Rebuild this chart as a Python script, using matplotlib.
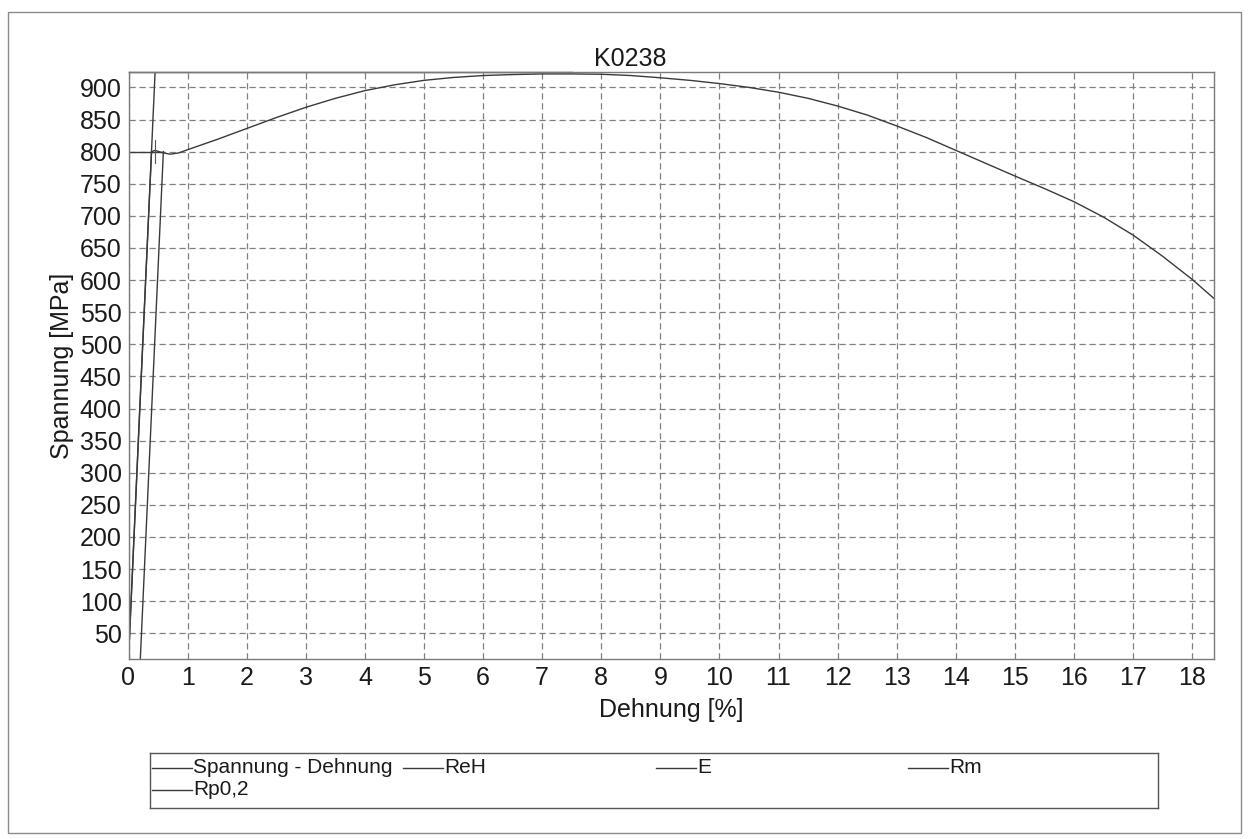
import matplotlib
matplotlib.use("Agg")
import matplotlib.pyplot as plt
from matplotlib.lines import Line2D
from matplotlib.patches import Rectangle

plt.rcParams['font.family'] = ['Liberation Sans', 'DejaVu Sans']

# ---- data ----
title = "K0238"
x_label = "Dehnung [%]"
y_label = "Spannung [MPa]"

strain = [0.0, 0.2, 0.39, 0.45, 0.55, 0.7, 0.85, 1.0, 1.5, 2.0, 2.5, 3.0, 3.5,
          4.0, 4.5, 5.0, 5.5, 6.0, 6.5, 7.0, 7.5, 8.0, 8.5, 9.0, 9.5, 10.0,
          10.5, 11.0, 11.5, 12.0, 12.5, 13.0, 13.5, 14.0, 14.5, 15.0, 15.5,
          16.0, 16.5, 17.0, 17.5, 18.0, 18.36]
stress = [10, 420, 800, 802, 799, 796, 798, 803, 819, 836, 853, 869, 883,
          895, 904, 911, 915.5, 918.5, 920, 921, 921, 920.5, 918.5, 915, 911, 906,
          900, 892.5, 883, 871, 857, 840, 822, 802, 782, 762, 742.5,
          722, 698, 670, 637, 601, 572]

# E line (Hooke line through origin)
e_x = [0.0, 0.45]
e_y = [10, 924]
# Rp0,2 offset line
rp_x = [0.2, 0.59]
rp_y = [10, 800]
# ReH marker
reh_h_x = [0.0, 0.59]
reh_h_y = [800, 800]
reh_v_x = [0.45, 0.45]
reh_v_y = [782, 818]
# Rm marker
rm_x = [0.0, 7.5]
rm_y = [924, 924]

x_ticks = list(range(0, 19))
y_ticks = list(range(50, 901, 50))

legend_labels = ["Spannung - Dehnung", "ReH", "E", "Rm", "Rp0,2"]

# ---- figure ----
W, H = 1250, 839
fig = plt.figure(figsize=(W / 100, H / 100), dpi=100)

def fx(px):
    return px / W

def fy(py):
    return 1 - py / H

# page frame
fig.patches.append(Rectangle((fx(8), fy(833)), fx(1241) - fx(8), fy(12) - fy(833),
                             transform=fig.transFigure, fill=False,
                             edgecolor='#8a8a8a', linewidth=1.0))

ax = fig.add_axes([fx(128.5), fy(659), fx(1213.5) - fx(128.5), fy(72) - fy(659)])

line_kw = dict(color='#3a3a3a', linewidth=1.0)
ax.plot(strain, stress, **line_kw)
ax.plot(e_x, e_y, **line_kw)
ax.plot(rp_x, rp_y, **line_kw)
ax.plot(reh_h_x, reh_h_y, **line_kw)
ax.plot(reh_v_x, reh_v_y, color='#555555', linewidth=0.8)
ax.plot(rm_x, rm_y, clip_on=False, **line_kw)

ax.set_xlim(0, 18.36)
ax.set_ylim(10, 924)
ax.set_xticks(x_ticks)
ax.set_yticks(y_ticks)
ax.tick_params(axis='both', length=0, labelsize=18, colors='#1a1a1a', pad=5)
ax.grid(True, color='#808080', linestyle=(0, (5, 3)), linewidth=0.9)
for s in ax.spines.values():
    s.set_color('#7a7a7a')
    s.set_linewidth(1.0)

fig.text(fx(630), fy(59), title, fontsize=18, ha='center', va='center', color='#1a1a1a')
ax.set_xlabel(x_label, fontsize=18, labelpad=6, color='#1a1a1a')
ax.set_ylabel(y_label, fontsize=18, labelpad=4, color='#1a1a1a')

# ---- legend (manual layout) ----
lx0, lx1, ly0, ly1 = 150, 1158, 753, 808
lax = fig.add_axes([fx(lx0), fy(ly1), fx(lx1) - fx(lx0), fy(ly0) - fy(ly1)])
lax.set_xlim(lx0, lx1)
lax.set_ylim(ly1, ly0)
lax.set_xticks([])
lax.set_yticks([])
for s in lax.spines.values():
    s.set_color('#555555')
    s.set_linewidth(1.0)

entries = [(152, 768), (403, 768), (656, 768), (908, 768), (152, 790)]
for (hx, hy), lab in zip(entries, legend_labels):
    lax.add_line(Line2D([hx, hx + 40], [hy, hy], color='#3a3a3a', linewidth=1.0))
    lax.text(hx + 41, hy, lab, fontsize=15, va='center', ha='left', color='#1a1a1a')

fig.savefig("out.png", dpi=100)
